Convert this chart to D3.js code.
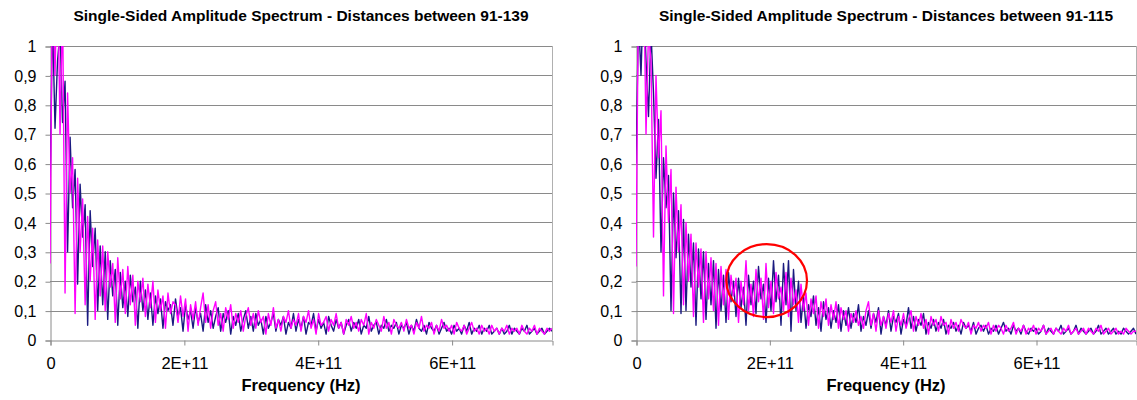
<!DOCTYPE html>
<html>
<head>
<meta charset="utf-8">
<script src="https://cdn.jsdelivr.net/npm/d3@7"></script>
<style>
  html, body { margin: 0; padding: 0; background: #fff; }
  svg { display: block; }
  text { font-family: Arial, "Liberation Sans", sans-serif; fill: #000; }
</style>
</head>
<body>
<svg id="chart" width="1137" height="400"></svg>
<script>
// ---------------- DATA ----------------
const chartTitles = [
  "Single-Sided Amplitude Spectrum - Distances between 91-139",
  "Single-Sided Amplitude Spectrum - Distances between 91-115"
];
const xAxisTitle = "Frequency (Hz)";
const freqStep = 3.75e9;            // spacing of spectrum samples (Hz)
const xTicks = [0, 2e11, 4e11, 6e11];
const xTickLabels = ["0", "2E+11", "4E+11", "6E+11"];
const yTicks = [0, 0.1, 0.2, 0.3, 0.4, 0.5, 0.6, 0.7, 0.8, 0.9, 1];
const yTickLabels = ["0", "0,1", "0,2", "0,3", "0,4", "0,5", "0,6", "0,7", "0,8", "0,9", "1"];

// Left chart (91-139): navy series
const left91_139Navy = [
  0.5, 1.1, 0.72, 0.95, 1.05, 0.74, 0.88, 0.3, 0.69, 0.45, 0.58, 0.19, 0.53, 0.35, 0.46, 0.05, 0.44, 0.25, 0.38, 0.1,
  0.32, 0.12, 0.3, 0.07, 0.27, 0.15, 0.24, 0.05, 0.23, 0.11, 0.2, 0.08, 0.22, 0.13, 0.18, 0.04, 0.2, 0.1, 0.17, 0.07,
  0.16, 0.05, 0.15, 0.09, 0.14, 0.04, 0.13, 0.1, 0.12, 0.05, 0.14, 0.08, 0.11, 0.03, 0.12, 0.07, 0.1, 0.04, 0.11, 0.06,
  0.09, 0.03, 0.12, 0.06, 0.1, 0.04, 0.08, 0.11, 0.03, 0.09, 0.06, 0.1, 0.02, 0.08, 0.05, 0.09, 0.03, 0.07, 0.1, 0.04,
  0.08, 0.03, 0.09, 0.05, 0.07, 0.02, 0.08, 0.04, 0.06, 0.09, 0.03, 0.07, 0.05, 0.08, 0.02, 0.06, 0.04, 0.09, 0.03, 0.07,
  0.04, 0.08, 0.02, 0.06, 0.05, 0.09, 0.03, 0.07, 0.04, 0.06, 0.02, 0.08, 0.05, 0.03, 0.07, 0.04, 0.06, 0.02, 0.05, 0.07,
  0.03, 0.06, 0.04, 0.07, 0.02, 0.05, 0.04, 0.08, 0.03, 0.05, 0.06, 0.02, 0.05, 0.04, 0.07, 0.03, 0.05, 0.04, 0.06, 0.02,
  0.05, 0.04, 0.06, 0.02, 0.05, 0.03, 0.07, 0.04, 0.03, 0.05, 0.02, 0.06, 0.04, 0.03, 0.05, 0.02, 0.04, 0.06, 0.03, 0.04,
  0.02, 0.05, 0.03, 0.04, 0.02, 0.05, 0.03, 0.06, 0.02, 0.04, 0.03, 0.05, 0.02, 0.04, 0.03, 0.05, 0.02, 0.03, 0.04, 0.02,
  0.04, 0.02, 0.03, 0.05, 0.02, 0.04, 0.03, 0.02, 0.04, 0.03, 0.05, 0.02, 0.03, 0.04, 0.02, 0.03, 0.04, 0.02, 0.03, 0.04, 0.03
];
// Left chart (91-139): magenta series
const left91_139Magenta = [
  0.26, 1.25, 0.9, 1.3, 0.7, 1.15, 0.16, 0.84, 0.5, 0.62, 0.09, 0.55, 0.3, 0.48, 0.12, 0.42, 0.2, 0.38, 0.07, 0.34,
  0.15, 0.32, 0.1, 0.3, 0.18, 0.26, 0.06, 0.28, 0.14, 0.24, 0.09, 0.25, 0.12, 0.22, 0.05, 0.2, 0.13, 0.21, 0.08, 0.19,
  0.11, 0.2, 0.06, 0.17, 0.1, 0.15, 0.04, 0.16, 0.09, 0.13, 0.12, 0.06, 0.15, 0.08, 0.14, 0.03, 0.12, 0.07, 0.13, 0.05,
  0.11, 0.16, 0.06, 0.12, 0.04, 0.1, 0.13, 0.05, 0.09, 0.03, 0.11, 0.07, 0.12, 0.04, 0.09, 0.06, 0.1, 0.03, 0.08, 0.11,
  0.05, 0.09, 0.04, 0.1, 0.06, 0.08, 0.02, 0.09, 0.05, 0.11, 0.04, 0.07, 0.03, 0.08, 0.06, 0.1, 0.04, 0.07, 0.05, 0.09,
  0.03, 0.08, 0.06, 0.1, 0.04, 0.07, 0.02, 0.09, 0.05, 0.06, 0.08, 0.03, 0.07, 0.05, 0.09, 0.04, 0.06, 0.02, 0.07, 0.05,
  0.08, 0.04, 0.06, 0.03, 0.07, 0.05, 0.09, 0.02, 0.06, 0.04, 0.07, 0.05, 0.03, 0.08, 0.04, 0.06, 0.02, 0.07, 0.05, 0.04,
  0.06, 0.03, 0.07, 0.04, 0.05, 0.02, 0.06, 0.04, 0.08, 0.03, 0.05, 0.04, 0.06, 0.02, 0.05, 0.03, 0.07, 0.04, 0.05, 0.03,
  0.05, 0.02, 0.06, 0.04, 0.03, 0.05, 0.02, 0.04, 0.06, 0.03, 0.04, 0.02, 0.05, 0.03, 0.04, 0.02, 0.05, 0.03, 0.04, 0.02,
  0.04, 0.03, 0.05, 0.02, 0.04, 0.03, 0.04, 0.02, 0.05, 0.03, 0.02, 0.04, 0.03, 0.05, 0.02, 0.04, 0.03, 0.02, 0.04, 0.03, 0.04
];
// Right chart (91-115): navy series
const right91_115Navy = [
  0.6, 1.1, 0.9, 1.2, 0.95, 0.76, 1.05, 0.84, 0.55, 0.75, 0.3, 0.62, 0.45, 0.56, 0.1, 0.5, 0.28, 0.44, 0.09, 0.41,
  0.1, 0.36, 0.18, 0.33, 0.05, 0.31, 0.14, 0.3, 0.07, 0.26, 0.12, 0.27, 0.04, 0.24, 0.1, 0.22, 0.06, 0.23, 0.13, 0.2,
  0.08, 0.21, 0.11, 0.18, 0.05, 0.22, 0.12, 0.2, 0.09, 0.25, 0.14, 0.19, 0.06, 0.21, 0.1, 0.27, 0.13, 0.22, 0.05, 0.26,
  0.12, 0.27, 0.03, 0.24, 0.1, 0.2, 0.06, 0.15, 0.04, 0.12, 0.08, 0.15, 0.05, 0.11, 0.03, 0.13, 0.07, 0.11, 0.04, 0.1,
  0.06, 0.12, 0.03, 0.1, 0.05, 0.11, 0.04, 0.09, 0.06, 0.12, 0.03, 0.08, 0.05, 0.1, 0.04, 0.09, 0.06, 0.11, 0.02, 0.08,
  0.05, 0.1, 0.03, 0.08, 0.06, 0.09, 0.02, 0.07, 0.05, 0.11, 0.04, 0.08, 0.03, 0.07, 0.05, 0.09, 0.02, 0.06, 0.04, 0.07,
  0.03, 0.06, 0.04, 0.07, 0.02, 0.05, 0.04, 0.06, 0.03, 0.05, 0.02, 0.06, 0.04, 0.05, 0.03, 0.06, 0.02, 0.04, 0.05, 0.03,
  0.05, 0.02, 0.04, 0.03, 0.05, 0.02, 0.04, 0.06, 0.03, 0.04, 0.02, 0.05, 0.03, 0.04, 0.02, 0.05, 0.03, 0.02, 0.04, 0.03,
  0.04, 0.02, 0.03, 0.05, 0.02, 0.04, 0.03, 0.02, 0.04, 0.03, 0.05, 0.02, 0.03, 0.04, 0.02, 0.03, 0.05, 0.02, 0.04, 0.03,
  0.02, 0.03, 0.04, 0.02, 0.03, 0.05, 0.02, 0.03, 0.04, 0.02, 0.03, 0.04, 0.02, 0.03, 0.02, 0.04, 0.03, 0.02, 0.03, 0.04, 0.02
];
// Right chart (91-115): magenta series
const right91_115Magenta = [
  0.25, 1.2, 1.1, 1.3, 0.7, 1.05, 0.95, 0.35, 0.9, 0.62, 0.78, 0.15, 0.66, 0.4, 0.58, 0.09, 0.52, 0.3, 0.46, 0.12,
  0.4, 0.2, 0.36, 0.08, 0.33, 0.18, 0.31, 0.06, 0.3, 0.14, 0.28, 0.1, 0.26, 0.05, 0.25, 0.12, 0.24, 0.07, 0.22, 0.15,
  0.21, 0.06, 0.2, 0.12, 0.27, 0.1, 0.19, 0.08, 0.24, 0.13, 0.21, 0.07, 0.26, 0.11, 0.2, 0.09, 0.23, 0.14, 0.18, 0.1,
  0.23, 0.08, 0.21, 0.12, 0.17, 0.06, 0.19, 0.1, 0.16, 0.05, 0.14, 0.09, 0.15, 0.04, 0.13, 0.08, 0.14, 0.05, 0.12, 0.07,
  0.13, 0.04, 0.11, 0.07, 0.1, 0.03, 0.09, 0.06, 0.1, 0.05, 0.08, 0.04, 0.1, 0.13, 0.05, 0.09, 0.03, 0.1, 0.05, 0.08,
  0.04, 0.09, 0.06, 0.1, 0.03, 0.08, 0.05, 0.09, 0.04, 0.07, 0.1, 0.03, 0.08, 0.05, 0.09, 0.04, 0.07, 0.02, 0.08, 0.05,
  0.07, 0.03, 0.08, 0.05, 0.06, 0.02, 0.07, 0.04, 0.06, 0.03, 0.07, 0.05, 0.04, 0.06, 0.02, 0.05, 0.04, 0.06, 0.03, 0.05,
  0.04, 0.06, 0.02, 0.05, 0.03, 0.05, 0.04, 0.02, 0.05, 0.03, 0.04, 0.06, 0.02, 0.04, 0.03, 0.05, 0.02, 0.04, 0.03, 0.05,
  0.02, 0.04, 0.03, 0.05, 0.02, 0.03, 0.04, 0.02, 0.04, 0.03, 0.02, 0.04, 0.03, 0.05, 0.02, 0.03, 0.04, 0.02, 0.03, 0.04,
  0.02, 0.04, 0.03, 0.02, 0.04, 0.03, 0.05, 0.02, 0.03, 0.04, 0.02, 0.03, 0.04, 0.02, 0.03, 0.02, 0.04, 0.03, 0.02, 0.03, 0.03
];
// Highlight ellipse on right chart, in data units: [centre freq, centre amplitude, half-width freq, half-height amplitude]
const highlightEllipse = [1.96e11, 0.202, 6.05e10, 0.124];

// ---------------- DRAWING ----------------
const svg = d3.select("#chart");
const navyColor = "#1a1a80";
const magentaColor = "#ff00ff";

const panels = [
  { title: chartTitles[0], navy: left91_139Navy, magenta: left91_139Magenta, left: 50, right: 552, ellipse: null },
  { title: chartTitles[1], navy: right91_115Navy, magenta: right91_115Magenta, left: 636, right: 1136, ellipse: highlightEllipse }
];
const plotTop = 46, plotBottom = 340;

panels.forEach((p, idx) => {
  const x = d3.scaleLinear().domain([0, 7.5e11]).range([p.left, p.right]);
  const y = d3.scaleLinear().domain([0, 1]).range([plotBottom, plotTop]);
  const g = svg.append("g");

  // gridlines
  g.append("g")
    .selectAll("line").data(yTicks.slice(1)).join("line")
    .attr("x1", p.left).attr("x2", p.right)
    .attr("y1", d => Math.round(y(d)) + 0.5).attr("y2", d => Math.round(y(d)) + 0.5)
    .attr("stroke", "#8a8a8a").attr("stroke-width", 1);
  // right border
  g.append("line")
    .attr("x1", p.right + 0.5).attr("x2", p.right + 0.5)
    .attr("y1", plotTop).attr("y2", plotBottom)
    .attr("stroke", "#b0b0b0");

  // y axis
  const yAxis = d3.axisLeft(y).tickValues(yTicks).tickSize(5).tickPadding(9)
    .tickFormat((d, i) => yTickLabels[i]);
  const ya = g.append("g").attr("transform", `translate(${p.left + 0.5},0.5)`).call(yAxis);
  ya.select(".domain").attr("stroke", "#8a8a8a");
  ya.selectAll(".tick line").attr("stroke", "#8a8a8a");
  ya.selectAll(".tick text").attr("font-size", 16).attr("fill", "#000")
    .attr("font-family", "Arial, 'Liberation Sans', sans-serif");

  // x axis
  const xAxis = d3.axisBottom(x).tickValues(xTicks).tickSize(5).tickPadding(12)
    .tickFormat((d, i) => xTickLabels[i]);
  const xa = g.append("g").attr("transform", `translate(0.5,${plotBottom + 0.5})`).call(xAxis);
  xa.select(".domain").attr("stroke", "#8a8a8a");
  xa.selectAll(".tick line").attr("stroke", "#8a8a8a");
  xa.selectAll(".tick text").attr("font-size", 16.5).attr("fill", "#000")
    .attr("font-family", "Arial, 'Liberation Sans', sans-serif");

  // clip
  const clipId = "clip" + idx;
  svg.append("defs").append("clipPath").attr("id", clipId)
    .append("rect").attr("x", p.left).attr("y", plotTop)
    .attr("width", p.right - p.left).attr("height", plotBottom - plotTop);

  const line = d3.line().x((d, i) => x(i * freqStep)).y(d => y(d));
  const lines = g.append("g").attr("clip-path", `url(#${clipId})`);
  lines.append("path").datum(p.navy).attr("d", line)
    .attr("fill", "none").attr("stroke", navyColor).attr("stroke-width", 1.4).attr("stroke-linejoin", "round");
  lines.append("path").datum(p.magenta).attr("d", line)
    .attr("fill", "none").attr("stroke", magentaColor).attr("stroke-width", 1.4).attr("stroke-linejoin", "round");

  // titles
  const cx = (p.left + p.right) / 2;
  g.append("text").attr("x", cx).attr("y", 21).attr("text-anchor", "middle")
    .attr("font-size", 15.5).attr("font-weight", "bold").text(p.title);
  g.append("text").attr("x", cx).attr("y", 391).attr("text-anchor", "middle")
    .attr("font-size", 16.5).attr("font-weight", "bold").text(xAxisTitle);

  // highlight ellipse
  if (p.ellipse) {
    const [ecx, ecy, erx, ery] = p.ellipse;
    g.append("ellipse")
      .attr("cx", x(ecx)).attr("cy", y(ecy))
      .attr("rx", x(ecx + erx) - x(ecx)).attr("ry", y(ecy) - y(ecy + ery))
      .attr("fill", "none").attr("stroke", "#ff0000").attr("stroke-width", 2.2);
  }
});
</script>
</body>
</html>
